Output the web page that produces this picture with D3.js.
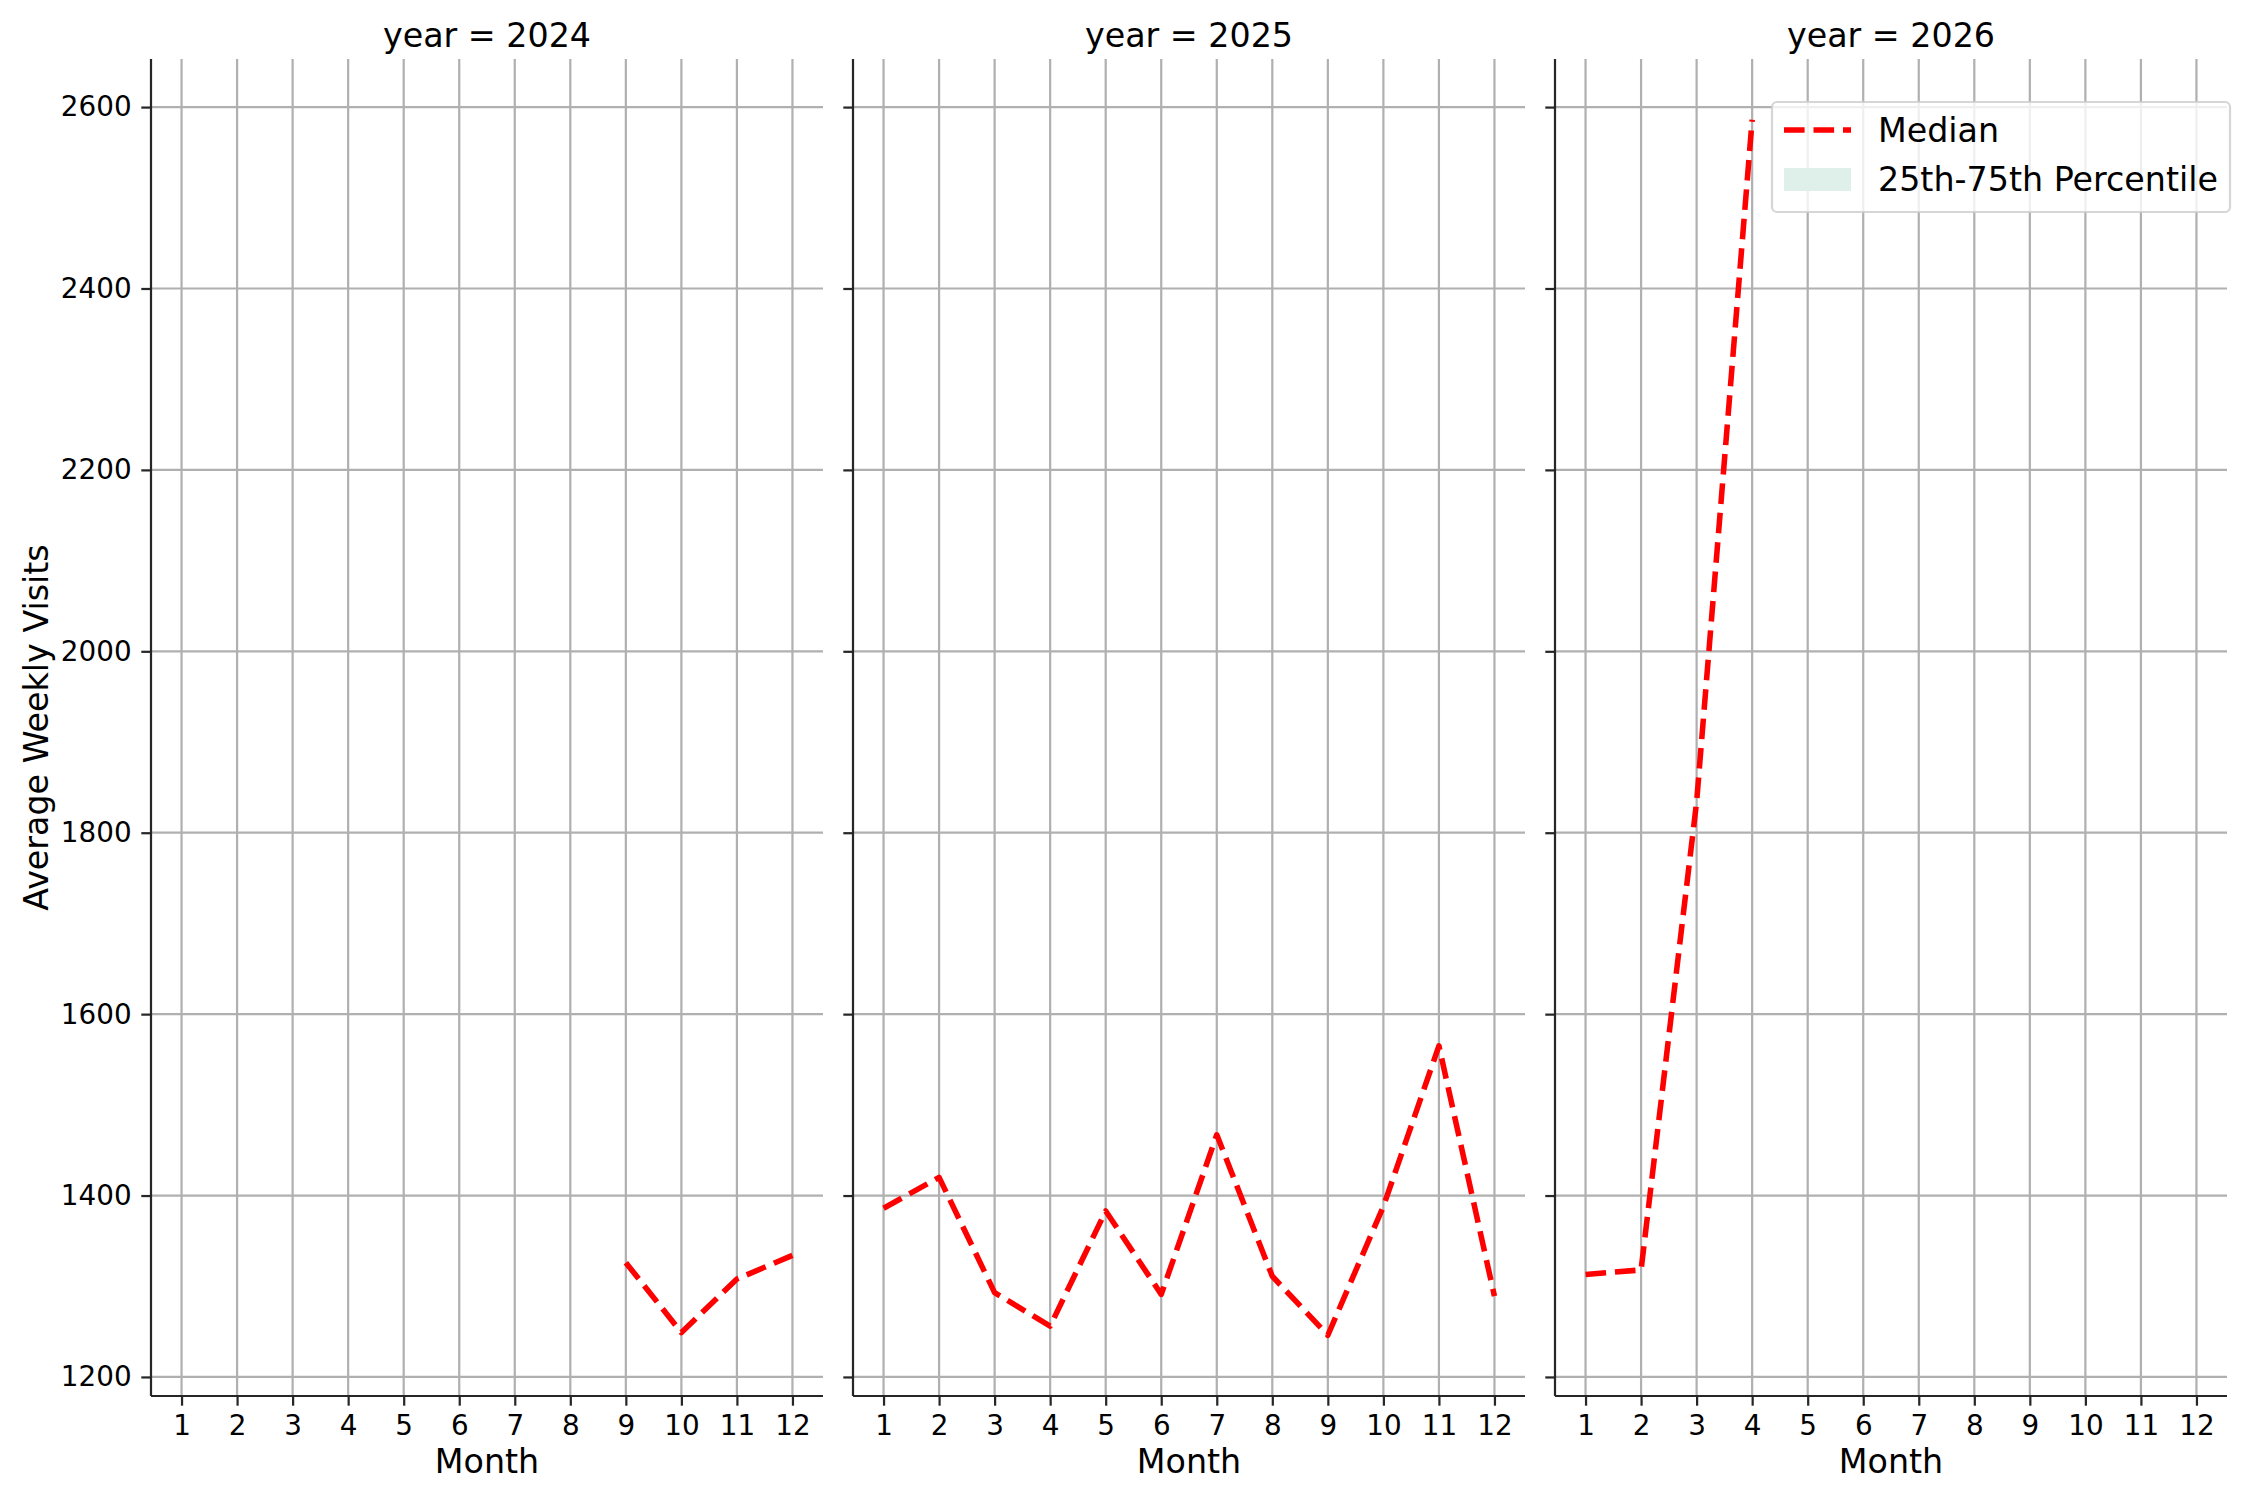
<!DOCTYPE html>
<html>
<head>
<meta charset="utf-8">
<script src="https://cdn.jsdelivr.net/npm/d3@7"></script>
<style>
  body { margin: 0; background: #fff; }
  text { font-family: "DejaVu Sans", sans-serif; fill: #000; }
</style>
</head>
<body>
<svg width="2250" height="1500"></svg>
<script>
// data
const years = [2024, 2025, 2026];
const monthTicks = [1, 2, 3, 4, 5, 6, 7, 8, 9, 10, 11, 12];
const valueTicks = [1200, 1400, 1600, 1800, 2000, 2200, 2400, 2600];

const months2024 = [9, 10, 11, 12];
const median2024 = [1326, 1249, 1308, 1334];

const months2025 = [1, 2, 3, 4, 5, 6, 7, 8, 9, 10, 11, 12];
const median2025 = [1386, 1420, 1293, 1256, 1383, 1291, 1467, 1311, 1246, 1388, 1565, 1289];

const months2026 = [1, 2, 3, 4];
const median2026 = [1313, 1318, 1834, 2586];

const series = [
  { year: years[0], months: months2024, median: median2024 },
  { year: years[1], months: months2025, median: median2025 },
  { year: years[2], months: months2026, median: median2026 }
];

const svg = d3.select("svg"),
  panelLeft = [151, 853, 1555],
  panelWidth = 672,
  plotTop = 59,
  plotBottom = 1396,
  px = 2.22; // 0.8pt at 200dpi

const allValues = series.flatMap(s => s.median);
const vMin = d3.min(allValues),
  vMax = d3.max(allValues),
  pad = (vMax - vMin) * 0.05;

const xScale = d3.scaleLinear().domain([0.45, 12.55]).range([0, panelWidth]);
const yScale = d3.scaleLinear().domain([vMin - pad, vMax + pad]).range([plotBottom, plotTop]);

const line = d3
  .line()
  .x(d => xScale(d.m))
  .y(d => yScale(d.v));

series.forEach((s, i) => {
  const g = svg.append("g").attr("transform", `translate(${panelLeft[i]}, 0)`);

  // grid
  g.selectAll(".vgrid")
    .data(monthTicks)
    .enter()
    .append("line")
    .attr("x1", d => xScale(d))
    .attr("x2", d => xScale(d))
    .attr("y1", plotTop)
    .attr("y2", plotBottom)
    .attr("stroke", "#b0b0b0")
    .attr("stroke-width", px);

  g.selectAll(".hgrid")
    .data(valueTicks)
    .enter()
    .append("line")
    .attr("x1", 0)
    .attr("x2", panelWidth)
    .attr("y1", d => yScale(d))
    .attr("y2", d => yScale(d))
    .attr("stroke", "#b0b0b0")
    .attr("stroke-width", px);

  // axes
  const xAxis = g
    .append("g")
    .attr("transform", `translate(0, ${plotBottom})`)
    .call(d3.axisBottom(xScale).tickValues(monthTicks).tickSize(9.7).tickPadding(9.7).tickSizeOuter(0));

  const yAxis = g
    .append("g")
    .call(
      d3
        .axisLeft(yScale)
        .tickValues(valueTicks)
        .tickSize(9.7)
        .tickPadding(9.7)
        .tickSizeOuter(0)
        .tickFormat(d => (i === 0 ? `${d}` : ""))
    );

  [xAxis, yAxis].forEach(a => {
    a.select(".domain").attr("stroke", "#262626").attr("stroke-width", px);
    a.selectAll(".tick line").attr("stroke", "#262626").attr("stroke-width", px);
    a.selectAll(".tick text").attr("font-size", "27.8px").attr("fill", "#000");
  });
  xAxis.select(".domain").attr("d", `M0,0H${panelWidth}`);
  yAxis.select(".domain").attr("d", `M0,${plotBottom}V${plotTop}`);

  // median line
  const pts = s.months.map((m, k) => ({ m: m, v: s.median[k] }));
  g.append("path")
    .datum(pts)
    .attr("d", line)
    .attr("fill", "none")
    .attr("stroke", "red")
    .attr("stroke-width", 5.56)
    .attr("stroke-dasharray", "20.6,8.9")
    .attr("stroke-linejoin", "round");

  // titles
  g.append("text")
    .attr("x", panelWidth / 2)
    .attr("y", 47)
    .attr("text-anchor", "middle")
    .attr("font-size", "33.3px")
    .text(`year = ${s.year}`);

  g.append("text")
    .attr("x", panelWidth / 2)
    .attr("y", 1473)
    .attr("text-anchor", "middle")
    .attr("font-size", "33.3px")
    .text("Month");
});

svg
  .append("text")
  .attr("transform", `translate(48, ${(plotTop + plotBottom) / 2}) rotate(-90)`)
  .attr("text-anchor", "middle")
  .attr("font-size", "33.3px")
  .text("Average Weekly Visits");

// legend
const lg = svg.append("g").attr("transform", "translate(1772, 102)");
lg.append("rect")
  .attr("width", 458)
  .attr("height", 110)
  .attr("rx", 5)
  .attr("fill", "rgba(255,255,255,0.8)")
  .attr("stroke", "rgba(204,204,204,0.8)")
  .attr("stroke-width", px);
lg.append("line")
  .attr("x1", 12)
  .attr("x2", 79)
  .attr("y1", 28)
  .attr("y2", 28)
  .attr("stroke", "red")
  .attr("stroke-width", 5.56)
  .attr("stroke-dasharray", "20.6,8.9");
lg.append("rect")
  .attr("x", 12)
  .attr("y", 66)
  .attr("width", 67)
  .attr("height", 23)
  .attr("fill", "#dff0eb");
lg.append("text").attr("x", 106).attr("y", 40).attr("font-size", "33.3px").text("Median");
lg.append("text").attr("x", 106).attr("y", 89).attr("font-size", "33.3px").text("25th-75th Percentile");
</script>
</body>
</html>
